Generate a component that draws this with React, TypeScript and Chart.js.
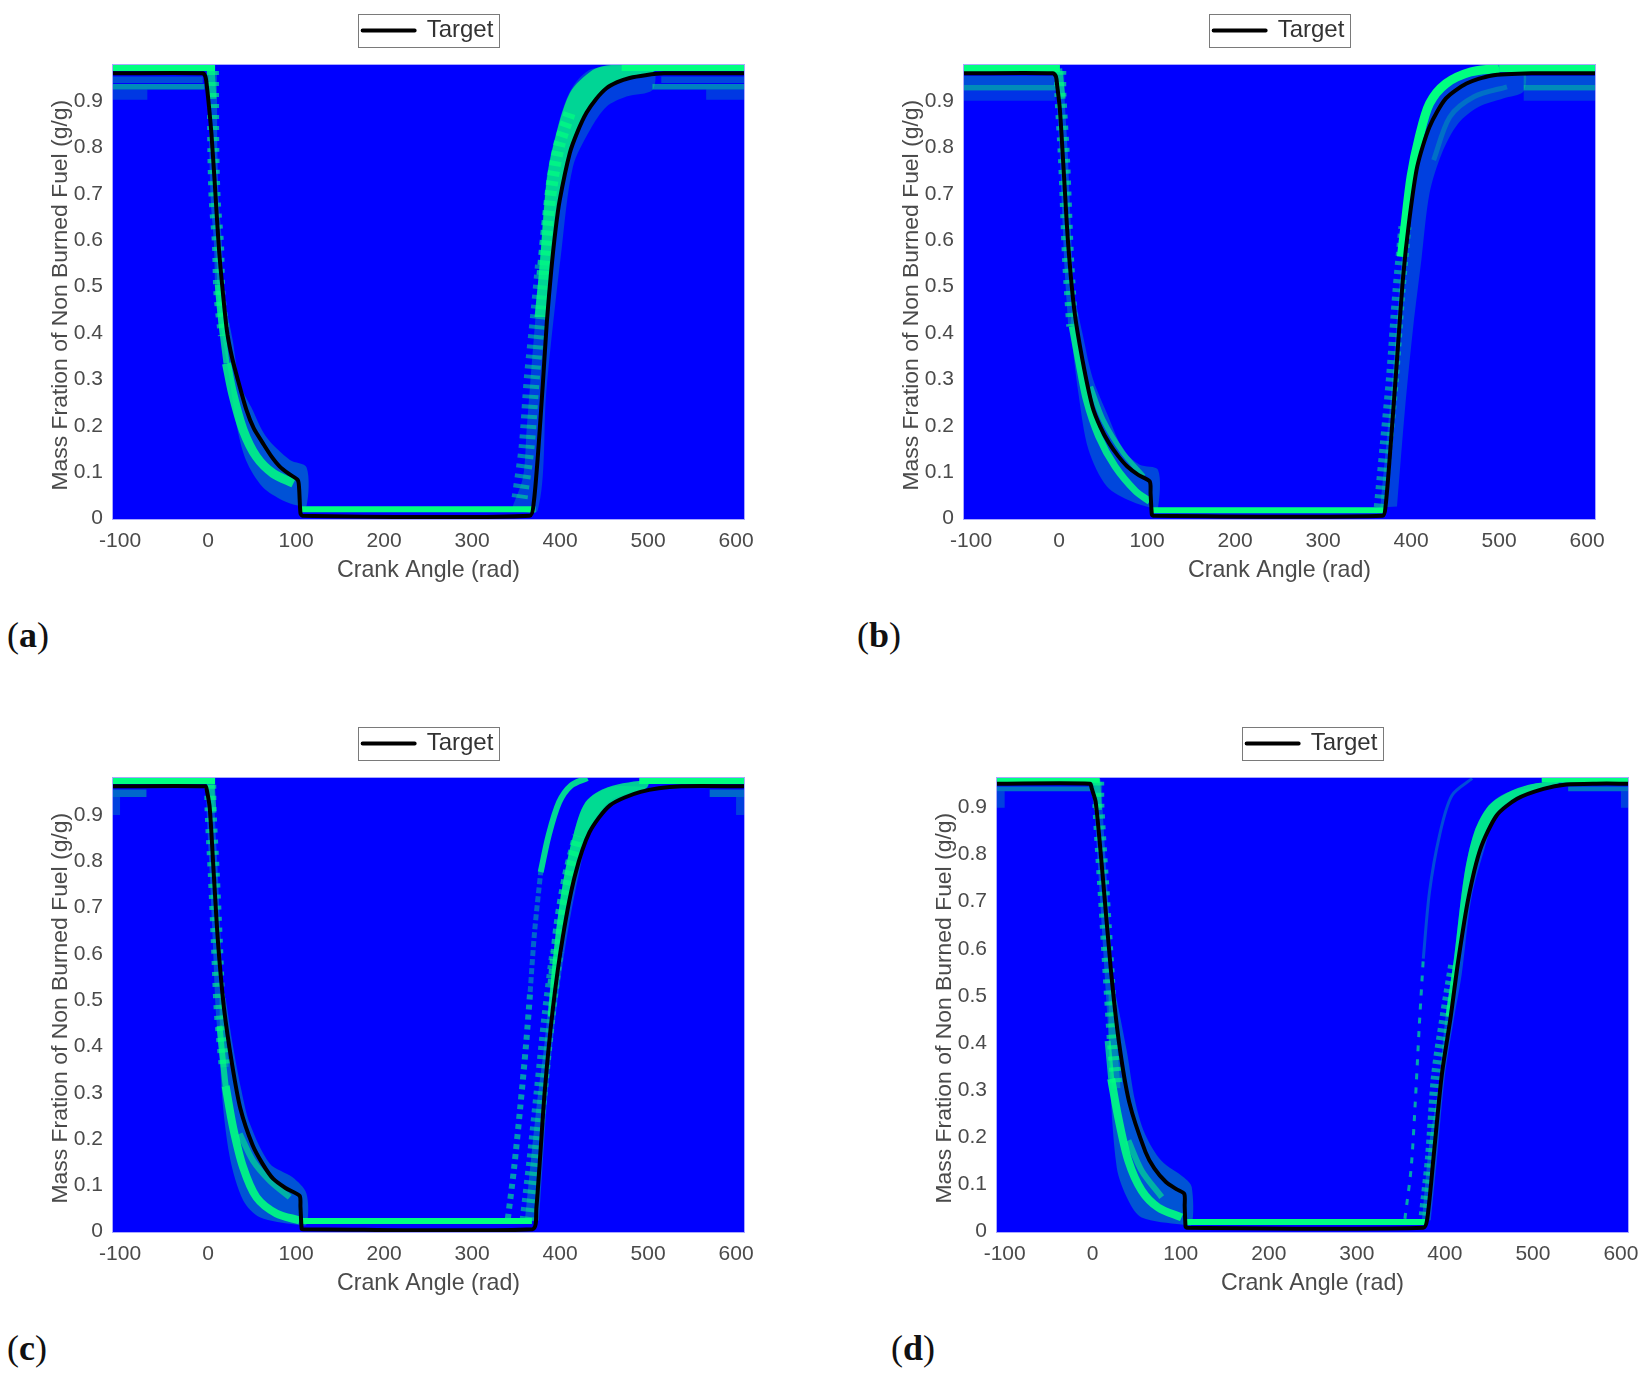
import React, { useEffect, useRef } from "react";
import { Chart, registerables } from "chart.js";

Chart.register(...registerables);

type P = [number, number];

const xTicks = [-100, 0, 100, 200, 300, 400, 500, 600];
const yTicks = [0, 0.1, 0.2, 0.3, 0.4, 0.5, 0.6, 0.7, 0.8, 0.9];
const xLabel = "Crank Angle (rad)";
const yLabel = "Mass Fration of Non Burned Fuel (g/g) ";
const legendLabel = "Target";

// ---------- panel (a) ----------
const aTarget: P[] = [[-108,.955],[-6,.955],[-3,.948],[-1.5,.93],[1,.885],[3.8,.826],[7.6,.719],[12.2,.582],[17,.48],[21.5,.4],[27,.345],[34,.294],[43.6,.23],[52,.19],[62.4,.158],[72,.13],[81.5,.108],[92,.092],[102,.079],[103.5,.06],[105,.008],[107,.002],[365.6,.002],[370,.029],[375,.137],[380.7,.294],[385,.42],[390,.531],[395,.62],[399.6,.682],[411,.783],[420,.83],[430,.87],[441,.9],[452.7,.923],[465,.936],[479,.945],[497,.951],[518,.955],[609,.955]];
const aTopL: P[] = [[-108,.973],[8,.973],[8,.96],[-108,.96]];
const aTopR: P[] = [[470,.973],[609,.973],[609,.96],[470,.96]];
const aRowDimL: P[] = [[-108,.948],[-6,.948],[-6,.934],[-108,.934]];
const aRowMidL: P[] = [[-108,.932],[-4,.932],[-4,.92],[-108,.92]];
const aRowFaintL: P[] = [[-108,.92],[-69,.92],[-69,.898],[-108,.898]];
const aRowDimR: P[] = [[515,.948],[609,.948],[609,.934],[515,.934]];
const aRowMidR: P[] = [[505,.932],[609,.932],[609,.92],[505,.92]];
const aRowFaintR: P[] = [[566,.92],[609,.92],[609,.898],[566,.898]];
const aTaper: P[] = [[3,.965],[5,.9]];
const aDownDash: P[] = [[5.5,.96],[5.7,.883],[6,.79],[7.6,.682],[11.2,.589],[13,.48],[18,.39]];
const aDownNeck: P[] = [[11,.5],[15,.42],[21,.33]];
const aDownRidge: P[] = [[21,.33],[28,.265],[40,.186],[55,.129],[74,.093],[97,.072]];
const aDownHalo: P[] = [[9,.6],[12,.45],[24.7,.294],[32,.201],[43,.122],[62,.064],[85,.035],[102,.024],[112,.024],[112,.106],[93,.122],[66,.172],[49,.236],[36,.287],[28,.38],[18,.48],[13,.6]];
const aUpCore: P[] = [[371,.43],[377,.546],[384.5,.719],[392,.797],[411,.912],[437,.962],[458,.973],[505,.973],[505,.955],[479,.945],[452.7,.923],[430,.87],[411,.783],[399.6,.682],[390,.531],[384,.43]];
const aUpBlocks: P[] = [[380,.52],[385,.62],[391,.72],[399,.8],[411,.87]];
const aUpDash: P[] = [[354,.04],[362,.15],[368,.3],[376,.45],[381,.55]];
const aUpHalo: P[] = [[346,.021],[358,.086],[362,.187],[365.5,.273],[377,.546],[384,.72],[392,.8],[411,.915],[437,.965],[505,.965],[505,.919],[475.4,.905],[452.7,.883],[434,.833],[414.6,.754],[401.6,.574],[384.5,.273],[374.6,.014],[346,.014]];
const aFlat: P[] = [[105,.016],[372,.016]];

// ---------- panel (b) ----------
const bTarget: P[] = [[-108,.955],[-6.8,.955],[-3.5,.948],[-2.2,.93],[1,.876],[5.7,.732],[10.3,.589],[17.3,.446],[26.6,.338],[38,.237],[47,.193],[56.7,.159],[67,.131],[77.6,.108],[90,.09],[103,.076],[104,.05],[105.5,.004],[107,.002],[367.6,.002],[371,.022],[377,.159],[384,.338],[391,.517],[398,.639],[407,.754],[421,.84],[439.6,.901],[463,.933],[490.6,.95],[537,.955],[609,.955]];
const bTopL: P[] = [[-108,.973],[1,.973],[1,.958],[-108,.958]];
const bTopR: P[] = [[500,.973],[609,.973],[609,.958],[500,.958]];
const bRowDimL: P[] = [[-108,.95],[-4,.95],[-4,.93],[-108,.93]];
const bRowMidL: P[] = [[-108,.93],[-3,.93],[-3,.918],[-108,.918]];
const bRowFaintL: P[] = [[-108,.918],[-4,.918],[-4,.896],[-108,.896]];
const bRowDimR: P[] = [[528,.95],[609,.95],[609,.93],[528,.93]];
const bRowMidR: P[] = [[528,.93],[609,.93],[609,.918],[528,.918]];
const bRowFaintR: P[] = [[528,.918],[609,.918],[609,.896],[528,.896]];
const bTaper: P[] = [[-1,.965],[3,.9]];
const bDownDash: P[] = [[1.4,.96],[1.5,.912],[5.7,.768],[10.3,.553],[15,.41]];
const bDownOuter: P[] = [[15,.41],[22,.338],[31,.252],[45,.173],[63.7,.108],[87,.055],[103,.033]];
const bDownInner: P[] = [[35.9,.28],[50,.209],[73,.137],[96,.087]];
const bDownHalo: P[] = [[12.6,.41],[22,.266],[33.5,.144],[54.4,.065],[82,.033],[105,.019],[112.4,.019],[112.4,.101],[91.5,.112],[73,.144],[54.4,.223],[38,.3],[26.6,.395],[17,.481]];
const bUpHalo: P[] = [[365,.02],[372,.159],[379,.302],[386,.481],[393,.625],[400,.733],[409.4,.819],[421,.89],[439.6,.933],[467,.958],[527.7,.96],[527.7,.916],[504.5,.901],[477,.883],[453.5,.847],[435,.783],[421,.697],[411.7,.553],[402.5,.41],[393,.23],[384,.022]];
const bUpRidge: P[] = [[389,.56],[393,.625],[400,.733],[409.4,.819],[421,.89],[439.6,.933],[467.4,.958],[500,.966]];
const bUpDash: P[] = [[365,.02],[372,.159],[379,.302],[386,.481],[393,.625]];
const bUpFaint: P[] = [[425.6,.768],[444,.861],[472,.905],[509,.926]];
const bFlat: P[] = [[105.5,.014],[370,.014]];

// ---------- panel (c) ----------
const cTarget: P[] = [[-108,.957],[-3,.957],[-1.3,.948],[2,.909],[6.6,.765],[11.3,.621],[18.2,.477],[27.5,.355],[36.8,.261],[50.7,.182],[62,.142],[73.9,.11],[88,.09],[104,.073],[105,.05],[106.4,.002],[108,.001],[368.6,.001],[373,.045],[382.5,.297],[391.8,.477],[403.4,.635],[417,.765],[433.5,.858],[456.7,.916],[491.5,.945],[538,.957],[609,.957]];
const cTopL: P[] = [[-108,.975],[8,.975],[8,.962],[-108,.962]];
const cTopR: P[] = [[490,.975],[609,.975],[609,.962],[490,.962]];
const cRowL: P[] = [[-108,.95],[-70,.95],[-70,.934],[-108,.934]];
const cColL: P[] = [[-108,.934],[-100,.934],[-100,.895],[-108,.895]];
const cRowR: P[] = [[570,.95],[609,.95],[609,.934],[570,.934]];
const cColR: P[] = [[600,.934],[609,.934],[609,.895],[600,.895]];
const cTaper: P[] = [[3,.965],[5,.9]];
const cDownDash: P[] = [[2.5,.96],[3,.9],[6.6,.765],[10,.62],[13.3,.473],[19,.351]];
const cDownNeck: P[] = [[13,.44],[16,.38],[20,.31]];
const cDownOuter: P[] = [[20,.31],[28.4,.221],[39.8,.135],[55,.07],[77.7,.035],[104,.02]];
const cDownInner: P[] = [[36,.207],[51,.149],[70,.106],[92.8,.07]];
const cDownHalo: P[] = [[13,.5],[15,.315],[24.7,.157],[40,.063],[58.8,.027],[100,.011],[111.8,.011],[111.8,.078],[96,.113],[70,.143],[47.4,.229],[38,.3],[28,.4],[20,.5]];
const cUpCore: P[] = [[386,.46],[394,.621],[403.4,.75],[415,.851],[429,.923],[454.4,.955],[500,.97],[500,.958],[491.5,.945],[456.7,.916],[433.5,.858],[417,.765],[403.4,.635],[392,.46]];
const cUpBlocks: P[] = [[392,.53],[399,.66],[408,.76],[420,.85]];
const cUpDash: P[] = [[362,.02],[370,.153],[378,.297],[387,.463],[396,.6]];
const cUpHalo: P[] = [[360,.02],[373,.261],[382.5,.405],[394,.621],[403.4,.75],[415,.851],[429,.923],[454.4,.955],[500,.955],[491.5,.95],[456.7,.925],[435,.87],[421,.765],[408,.635],[396,.477],[386,.297],[376,.02]];
const cOutlierLow: P[] = [[340.7,.024],[347.7,.132],[354.6,.261],[361.6,.405],[366,.513]];
const cOutlierMid: P[] = [[366,.513],[371,.642],[378,.772]];
const cOutlierHigh: P[] = [[378,.772],[387,.851],[399,.923],[412.6,.959],[431,.975]];
const cFlat: P[] = [[106,.019],[368,.019]];

// ---------- panel (d) ----------
const dTarget: P[] = [[-108.7,.946],[-3,.946],[-1.3,.937],[3.4,.907],[11.3,.752],[20.5,.554],[29.8,.398],[41.4,.271],[59.9,.165],[70,.13],[83.2,.101],[95,.086],[104,.076],[104.5,.05],[105.5,.006],[107,.004],[375.5,.004],[380,.023],[387,.151],[396.4,.327],[406.5,.45],[415,.568],[426.6,.702],[440.5,.808],[459,.879],[482,.914],[512,.935],[538,.944],[572,.946],[608,.946]];
const dTopL: P[] = [[-108.7,.958],[8,.958],[8,.948],[-108.7,.948]];
const dTopR: P[] = [[510,.958],[608,.958],[608,.948],[510,.948]];
const dRowL: P[] = [[-108.7,.94],[-2,.94],[-2,.93],[-108.7,.93]];
const dRowR: P[] = [[540,.94],[608,.94],[608,.93],[540,.93]];
const dColL: P[] = [[-108.7,.93],[-100,.93],[-100,.895],[-108.7,.895]];
const dColR: P[] = [[600,.93],[608,.93],[608,.895],[600,.895]];
const dTaper: P[] = [[4,.955],[6,.89]];
const dDownDash: P[] = [[6.2,.95],[6.6,.893],[13.6,.681],[18.2,.54],[23,.398],[27,.3]];
const dDownNeck: P[] = [[17,.4],[19,.36],[21,.32]];
const dDownOuter: P[] = [[21,.32],[29,.238],[40.5,.146],[55.6,.083],[74.4,.047],[101,.026]];
const dDownInner: P[] = [[40.5,.189],[55.6,.125],[78.4,.069]];
const dDownHalo: P[] = [[18,.5],[19,.345],[27.3,.132],[40.5,.062],[55.6,.026],[101,.011],[112.5,.011],[112.5,.09],[104,.11],[78,.146],[59.4,.203],[48,.274],[38.6,.38],[26,.5]];
const dUpCore: P[] = [[401,.455],[410.3,.575],[422,.752],[433.5,.844],[450,.9],[473,.929],[501,.946],[530,.948],[512,.935],[482,.914],[459,.879],[440.5,.808],[426.6,.702],[415,.568],[406.5,.45]];
const dUpDash: P[] = [[376,.03],[383,.151],[390,.327],[400,.455],[410,.568]];
const dUpHalo: P[] = [[374,.02],[382.5,.186],[391.8,.292],[401,.455],[410.3,.575],[422,.752],[433.5,.844],[450,.9],[473,.929],[512,.936],[482,.918],[459,.885],[445,.808],[430,.702],[419,.54],[410,.444],[400,.327],[391,.151],[384,.02]];
const dOutlierLow: P[] = [[354.6,.023],[361.6,.129],[366,.257],[371,.434],[375.5,.575]];
const dOutlierHigh: P[] = [[375.5,.575],[382.5,.716],[394,.837],[408,.921],[431,.957]];
const dFlat: P[] = [[106,.016],[378,.016]];

const toXY = (pts: P[]) => pts.map(([x, y]) => ({ x, y }));
const green = (a: number) => `rgba(0,255,128,${a})`;

const rect = (pts: P[], alpha: number) => ({
  data: toXY(pts), label: "", fill: "shape", backgroundColor: green(alpha),
  borderWidth: 0, pointRadius: 0, tension: 0, clip: 0,
});
const area = (pts: P[], alpha: number) => ({ ...rect(pts, alpha), tension: 0.3 });
const ridge = (pts: P[], width: number, alpha: number, dash: number[] = []) => ({
  data: toXY(pts), label: "", fill: false, borderColor: green(alpha), borderWidth: width,
  borderDash: dash, borderCapStyle: "butt", pointRadius: 0, tension: 0.3, clip: 0,
});
const targetLine = (pts: P[]) => ({
  data: toXY(pts), label: legendLabel, fill: false, borderColor: "#000", backgroundColor: "#000",
  borderWidth: 4, pointRadius: 0, tension: 0.25, borderJoinStyle: "round", clip: 0,
});

// Drawn back to front; the target line is added last and stays on top.
const panels = [
  {
    left: 40, top: 0, xMin: -108, xMax: 609, yMax: 0.973, letter: "a", lx: 7, ly: 615,
    target: aTarget,
    layers: [
      rect(aRowFaintL, .22), rect(aRowFaintR, .22), rect(aRowDimL, .3), rect(aRowDimR, .28),
      rect(aRowMidL, .55), rect(aRowMidR, .5), rect(aTopL, 1), rect(aTopR, 1),
      area(aDownHalo, .32), ridge(aTaper, 8, .6), ridge(aDownDash, 8, .3), ridge(aDownDash, 12, .65, [4, 7]),
      ridge(aDownNeck, 6, .75), ridge(aDownRidge, 9, .85),
      area(aUpHalo, .25), ridge(aUpDash, 16, .5, [4, 6]), area(aUpCore, .78), ridge(aUpBlocks, 12, .7, [5, 5]), ridge(aFlat, 6, 1),
    ],
  },
  {
    left: 891, top: 0, xMin: -108, xMax: 609, yMax: 0.973, letter: "b", lx: 857, ly: 615,
    target: bTarget,
    layers: [
      rect(bRowFaintL, .2), rect(bRowFaintR, .2), rect(bRowDimL, .3), rect(bRowDimR, .3),
      rect(bRowMidL, .55), rect(bRowMidR, .55), rect(bTopL, 1), rect(bTopR, 1),
      area(bDownHalo, .28), ridge(bTaper, 8, .6), ridge(bDownDash, 8, .3), ridge(bDownDash, 12, .65, [4, 7]), ridge(bDownOuter, 7, .85), ridge(bDownInner, 5, .6),
      area(bUpHalo, .25), ridge(bUpFaint, 5, .25), ridge(bUpDash, 13, .55, [4, 5]), ridge(bUpRidge, 9, 1), ridge(bFlat, 6, 1),
    ],
  },
  {
    left: 40, top: 713, xMin: -108, xMax: 609, yMax: 0.975, letter: "c", lx: 7, ly: 1328,
    target: cTarget,
    layers: [
      rect(cColL, .25), rect(cColR, .25), rect(cRowL, .4), rect(cRowR, .4), rect(cTopL, 1), rect(cTopR, 1),
      area(cDownHalo, .33), ridge(cTaper, 8, .6), ridge(cDownDash, 8, .3), ridge(cDownDash, 12, .65, [4, 7]), ridge(cDownNeck, 6, .7),
      ridge(cDownOuter, 8, .9), ridge(cDownInner, 6, .55),
      area(cUpHalo, .3), ridge(cUpDash, 14, .55, [4, 5]), area(cUpCore, .8), ridge(cUpBlocks, 11, .65, [5, 5]),
      ridge(cOutlierLow, 6, .6, [5, 5]), ridge(cOutlierMid, 5, .4, [6, 3]), ridge(cOutlierHigh, 6, .85), ridge(cFlat, 6, 1),
    ],
  },
  {
    left: 924, top: 713, xMin: -108.7, xMax: 608, yMax: 0.958, letter: "d", lx: 891, ly: 1328,
    target: dTarget,
    layers: [
      rect(dColL, .25), rect(dColR, .25), rect(dRowL, .45), rect(dRowR, .45), rect(dTopL, 1), rect(dTopR, 1),
      area(dDownHalo, .33), ridge(dTaper, 8, .6), ridge(dDownDash, 8, .3), ridge(dDownDash, 12, .65, [4, 7]), ridge(dDownNeck, 6, .7),
      ridge(dDownOuter, 8, .9), ridge(dDownInner, 6, .55),
      area(dUpHalo, .3), ridge(dUpDash, 10, .6, [4, 4]), area(dUpCore, .85),
      ridge(dOutlierLow, 3, .65, [6, 8]), ridge(dOutlierHigh, 3, .3), ridge(dFlat, 6, 1),
    ],
  },
];

const LEGEND_FONT = 24;
const LEGEND_PAD = 31;

const frame = {
  id: "frame",
  beforeDraw(chart: any) {
    const { ctx, chartArea: a } = chart;
    ctx.save();
    ctx.fillStyle = "#0000ff";
    ctx.fillRect(a.left, a.top, a.right - a.left, a.bottom - a.top);
    ctx.restore();
  },
  afterLayout(chart: any) {
    const l = chart.legend;
    const up = 12.5;
    const across = 36;
    l.top -= up;
    l.bottom -= up;
    l.left += across;
    l.right += across;
  },
  afterDraw(chart: any) {
    const { ctx, chartArea: a, legend } = chart;
    ctx.save();
    ctx.strokeStyle = "#a8a8ff";
    ctx.lineWidth = 1;
    ctx.strokeRect(a.left - 0.5, a.top - 0.5, a.right - a.left + 1, a.bottom - a.top + 1);
    const cx = (a.left + a.right) / 2;
    const cy = legend.top + LEGEND_PAD + LEGEND_FONT / 2;
    ctx.strokeStyle = "#7a7a7a";
    ctx.strokeRect(Math.round(cx - 70.5) + 0.5, Math.round(cy - 16.5) + 0.5, 141, 33);
    ctx.restore();
  },
};

function Panel({ cfg }: { cfg: (typeof panels)[number] }) {
  const ref = useRef<HTMLCanvasElement>(null);
  useEffect(() => {
    const font = "'Liberation Sans', Arial, sans-serif";
    const chart = new Chart(ref.current as HTMLCanvasElement, {
      type: "line",
      data: { datasets: [targetLine(cfg.target), ...[...cfg.layers].reverse()] as any },
      plugins: [frame],
      options: {
        animation: false,
        responsive: false,
        devicePixelRatio: 1,
        layout: { padding: { right: 72 } },
        plugins: {
          tooltip: { enabled: false },
          legend: {
            display: true,
            position: "top",
            labels: {
              filter: (item: any) => item.text === legendLabel,
              boxWidth: 52,
              boxHeight: 0,
              padding: LEGEND_PAD,
              color: "#333",
              font: { family: font, size: LEGEND_FONT },
            },
          },
        },
        scales: {
          x: {
            type: "linear",
            min: cfg.xMin,
            max: cfg.xMax,
            afterBuildTicks: (s: any) => { s.ticks = xTicks.map((value) => ({ value })); },
            afterFit: (s: any) => { s.height = 66; },
            grid: { display: false, drawTicks: false },
            border: { display: false },
            ticks: {
              maxRotation: 0, autoSkip: false, padding: 10, color: "#4a4a4a",
              font: { family: font, size: 21 },
              callback: (v: any) => String(v),
            },
            title: {
              display: true, text: xLabel, color: "#4a4a4a", padding: { top: 0, bottom: 0 },
              font: { family: font, size: 23.2 },
            },
          },
          y: {
            type: "linear",
            min: -0.005,
            max: cfg.yMax,
            afterBuildTicks: (s: any) => { s.ticks = yTicks.map((value) => ({ value })); },
            afterFit: (s: any) => { s.width = 73; },
            grid: { display: false, drawTicks: false },
            border: { display: false },
            ticks: {
              autoSkip: false, padding: 10, labelOffset: 2, color: "#4a4a4a",
              font: { family: font, size: 21 },
              callback: (v: any) => String(v),
            },
            title: {
              display: true, text: yLabel, color: "#4a4a4a", padding: { top: 7, bottom: 0 },
              font: { family: font, size: 22.9 },
            },
          },
        },
      },
    } as any);
    return () => chart.destroy();
  }, [cfg]);
  return (
    <canvas
      ref={ref}
      width={776}
      height={585}
      style={{ position: "absolute", left: cfg.left, top: cfg.top, width: 776, height: 585, filter: "blur(0.6px)" }}
    />
  );
}

export default function App() {
  return (
    <div style={{ position: "absolute", left: 0, top: 0, width: 1646, height: 1378, overflow: "hidden", background: "#fff" }}>
      {panels.map((p) => <Panel key={p.letter} cfg={p} />)}
      {panels.map((p) => (
        <div
          key={p.letter + "l"}
          style={{ position: "absolute", left: p.lx, top: p.ly, fontFamily: "'Liberation Serif', serif", fontSize: 36, lineHeight: "40px", color: "#111" }}
        >
          (<b>{p.letter}</b>)
        </div>
      ))}
    </div>
  );
}
